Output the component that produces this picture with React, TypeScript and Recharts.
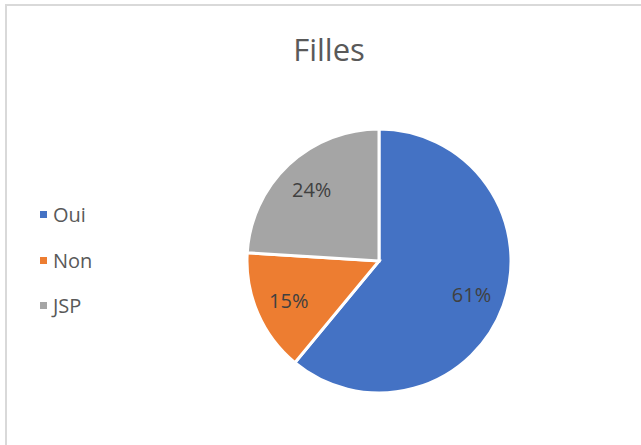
import { PieChart, Pie, Cell } from 'recharts'

const categories = ['Oui', 'Non', 'JSP']
const values = [61, 15, 24]
const colors = ['#4472C4', '#ED7D31', '#A5A5A5']

const data = categories.map((name, i) => ({ name, value: values[i] }))

const RAD = Math.PI / 180
const FONT = '"Open Sans", "Noto Sans", sans-serif'

// eslint-disable-next-line @typescript-eslint/no-explicit-any
const renderLabel = (props: any) => {
  const { cx, cy, midAngle, outerRadius, percent } = props
  const r = outerRadius * 0.745
  const x = cx + r * Math.cos(-midAngle * RAD)
  const y = cy + r * Math.sin(-midAngle * RAD)
  return (
    <text x={x} y={y} fill="#404040" fontSize={20} fontFamily={FONT} textAnchor="middle" dominantBaseline="central">
      {`${Math.round(percent * 100)}%`}
    </text>
  )
}

export default function App() {
  return (
    <div style={{ position: 'absolute', left: 0, top: 0, width: 641, height: 445, overflow: 'hidden', background: '#fff' }}>
      <div
        style={{
          position: 'absolute',
          left: 5,
          top: 4,
          width: 660,
          height: 460,
          border: '2px solid #d9d9d9',
        }}
      />
      <div
        style={{
          position: 'absolute',
          left: 0,
          top: 28,
          width: 658,
          textAlign: 'center',
          fontFamily: FONT,
          fontSize: 31,
          color: '#595959',
        }}
      >
        Filles
      </div>
      {/* legend */}
      <div style={{ position: 'absolute', left: 40, top: 192, fontFamily: FONT, fontSize: 20, color: '#595959' }}>
        {data.map((d, i) => (
          <div key={d.name} style={{ display: 'flex', alignItems: 'center', height: 45.5 }}>
            <span style={{ width: 7, height: 7, background: colors[i], marginRight: 6, display: 'inline-block' }} />
            <span>{d.name}</span>
          </div>
        ))}
      </div>
      <div style={{ position: 'absolute', left: 0, top: 0 }}>
        <PieChart width={641} height={445} margin={{ top: 0, right: 0, bottom: 0, left: 0 }}>
          <Pie
            data={data}
            dataKey="value"
            nameKey="name"
            cx={379}
            cy={261}
            outerRadius={132}
            startAngle={90}
            endAngle={-270}
            stroke="#ffffff"
            strokeWidth={3}
            label={renderLabel}
            labelLine={false}
            isAnimationActive={false}
          >
            {data.map((d, i) => (
              <Cell key={d.name} fill={colors[i]} />
            ))}
          </Pie>
        </PieChart>
      </div>
    </div>
  )
}
